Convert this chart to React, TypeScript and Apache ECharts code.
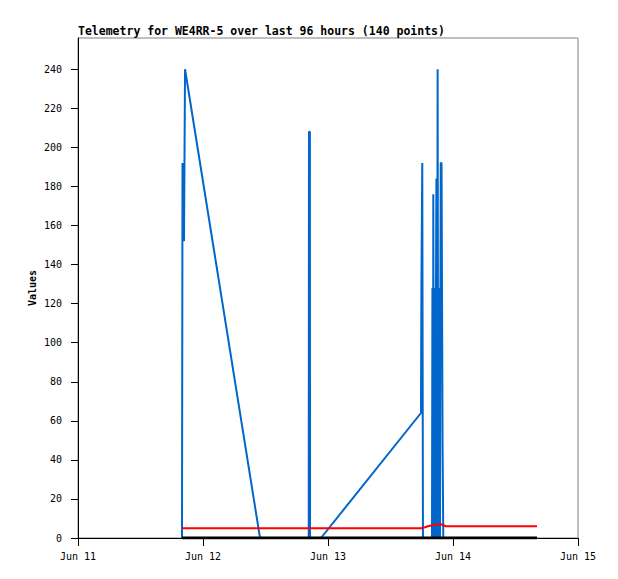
import React, { useEffect, useRef } from "react";
import * as echarts from "echarts";

const TITLE = "Telemetry for WE4RR-5 over last 96 hours (140 points)";
const Y_NAME = "Values";
const X_MIN = "2024-06-11T00:00:00Z";
const X_MAX = "2024-06-15T00:00:00Z";
const Y_MAX = 256;
const Y_TICKS = [0, 20, 40, 60, 80, 100, 120, 140, 160, 180, 200, 220, 240];
const MONTHS = ["Jan", "Feb", "Mar", "Apr", "May", "Jun", "Jul", "Aug", "Sep", "Oct", "Nov", "Dec"];

const blueTimes = [
  "2024-06-11T19:58:00Z", "2024-06-11T20:04:00Z", "2024-06-11T20:21:00Z", "2024-06-11T20:33:00Z",
  "2024-06-12T10:57:00Z", "2024-06-12T20:18:00Z", "2024-06-12T20:21:00Z", "2024-06-12T20:31:00Z",
  "2024-06-12T20:33:00Z", "2024-06-12T22:39:00Z", "2024-06-13T17:51:00Z", "2024-06-13T17:56:00Z",
  "2024-06-13T18:06:00Z", "2024-06-13T18:14:00Z",
  "2024-06-13T19:58:00Z", "2024-06-13T20:03:00Z", "2024-06-13T20:10:00Z", "2024-06-13T20:13:00Z",
  "2024-06-13T20:20:00Z", "2024-06-13T20:25:00Z", "2024-06-13T20:28:00Z", "2024-06-13T20:40:00Z",
  "2024-06-13T20:44:00Z", "2024-06-13T20:49:00Z", "2024-06-13T20:55:00Z", "2024-06-13T21:03:00Z",
  "2024-06-13T21:10:00Z", "2024-06-13T21:14:00Z", "2024-06-13T21:20:00Z", "2024-06-13T21:25:00Z",
  "2024-06-13T21:30:00Z", "2024-06-13T21:35:00Z", "2024-06-13T21:39:00Z", "2024-06-13T21:48:00Z",
  "2024-06-13T21:52:00Z", "2024-06-13T22:00:00Z", "2024-06-13T22:05:00Z", "2024-06-13T22:08:00Z",
  "2024-06-14T16:08:00Z",
];
const blueValues = [
  0, 192, 152, 240,
  0, 0, 208, 208,
  0, 0, 64, 128,
  192, 0,
  0, 128, 0, 176,
  0, 128, 0, 0,
  128, 184, 0, 240,
  0, 128, 0, 128,
  0, 128, 192, 192,
  144, 48, 48, 0,
  0,
];

const redTimes = [
  "2024-06-11T19:58:00Z", "2024-06-12T20:21:00Z", "2024-06-13T17:51:00Z", "2024-06-13T18:37:00Z",
  "2024-06-13T19:12:00Z", "2024-06-13T19:58:00Z", "2024-06-13T21:09:00Z", "2024-06-13T21:46:00Z",
  "2024-06-13T22:07:00Z", "2024-06-13T22:39:00Z", "2024-06-14T16:08:00Z",
];
const redValues = [5, 5, 5, 5.5, 6, 6.5, 7, 7, 6.5, 6, 6];

const blackTimes = ["2024-06-11T19:58:00Z", "2024-06-12T20:21:00Z", "2024-06-13T20:21:00Z", "2024-06-14T16:08:00Z"];
const blackValues = [0, 0, 0, 0];

const pairs = (t: string[], v: number[]) => t.map((s, i) => [Date.parse(s), v[i]]);

export default function App() {
  const ref = useRef<HTMLDivElement>(null);
  useEffect(() => {
    if (!ref.current) return;
    const chart = echarts.init(ref.current, undefined, { renderer: "svg" });
    const mono = "DejaVu Sans Mono";
    chart.setOption({
      animation: false,
      backgroundColor: "#ffffff",
      title: {
        text: TITLE,
        left: 73,
        top: 20,
        textStyle: { fontFamily: mono, fontWeight: "bold", fontSize: 11.5, color: "#000" },
      },
      grid: {
        left: 78,
        top: 38,
        width: 500,
        height: 500,
        show: true,
        borderColor: "#808080",
        borderWidth: 1,
        backgroundColor: "transparent",
      },
      xAxis: {
        type: "value",
        min: Date.parse(X_MIN),
        max: Date.parse(X_MAX),
        interval: 86400000,
        z: 3,
        axisLine: { show: true, lineStyle: { color: "#000", width: 1 } },
        axisTick: { show: true, inside: false, length: 8, lineStyle: { color: "#000" } },
        splitLine: { show: false },
        axisLabel: {
          margin: 13,
          fontFamily: mono,
          fontSize: 10,
          color: "#000",
          showMinLabel: true,
          showMaxLabel: true,
          formatter: (v: number) => {
            const d = new Date(v);
            return MONTHS[d.getUTCMonth()] + " " + d.getUTCDate();
          },
        },
      },
      yAxis: {
        type: "value",
        min: 0,
        max: Y_MAX,
        z: 3,
        name: Y_NAME,
        nameLocation: "middle",
        nameGap: 41,
        nameMoveOverlap: false,
        nameRotate: 90,
        nameTextStyle: { fontFamily: mono, fontWeight: "bold", fontSize: 10, color: "#000" },
        axisLine: { show: true, lineStyle: { color: "#000", width: 1 } },
        axisTick: { show: true, inside: false, length: 7, customValues: Y_TICKS, lineStyle: { color: "#000" } },
        splitLine: { show: false },
        axisLabel: {
          margin: 16,
          fontFamily: mono,
          fontSize: 10,
          color: "#000",
          customValues: Y_TICKS,
        },
      },
      series: [
        {
          type: "line",
          data: pairs(blueTimes, blueValues),
          showSymbol: false,
          symbol: "none",
          lineStyle: { color: "#0066cc", width: 2 },
          itemStyle: { color: "#0066cc" },
          z: 2,
        },
        {
          type: "line",
          data: pairs(redTimes, redValues),
          showSymbol: false,
          symbol: "none",
          lineStyle: { color: "#ff0000", width: 2 },
          itemStyle: { color: "#ff0000" },
          z: 3,
        },
        {
          type: "line",
          data: pairs(blackTimes, blackValues),
          showSymbol: false,
          symbol: "none",
          lineStyle: { color: "#000000", width: 3 },
          itemStyle: { color: "#000000" },
          z: 4,
        },
      ],
    });
    return () => chart.dispose();
  }, []);
  return (
    <div
      ref={ref}
      style={{ position: "fixed", left: 0, top: 0, width: 618, height: 579, background: "#fff" }}
    />
  );
}
